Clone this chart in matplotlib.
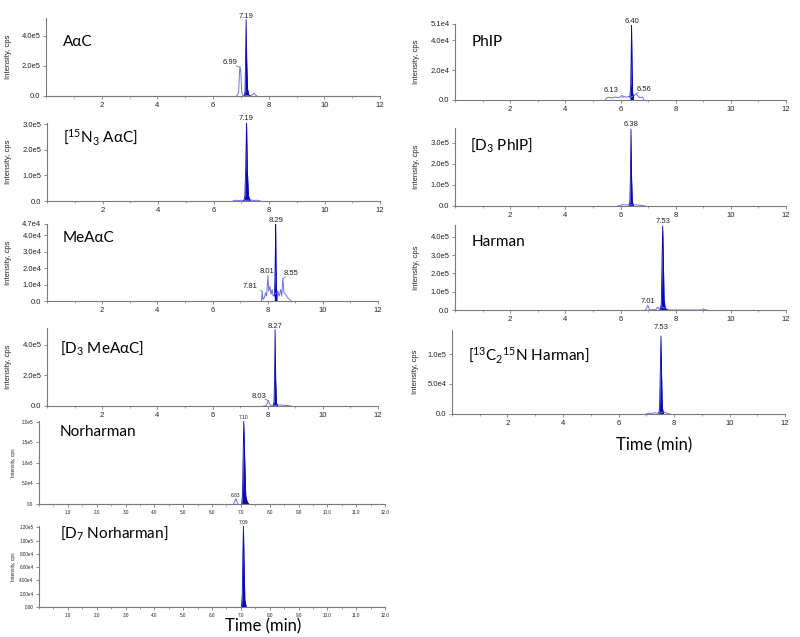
import matplotlib
matplotlib.use("Agg")
import matplotlib.pyplot as plt
from matplotlib.ticker import MultipleLocator

plt.rcParams["mathtext.fontset"] = "custom"
plt.rcParams["mathtext.rm"] = "Lato"

W, H = 800, 637
DARK = "#0a0ab4"
LIGHT = "#6f6fe8"
AX_GRAY = "#7a7a7a"

# ---- chromatogram vertices (time in min, intensity in cps) ----
aac_t = [6.85, 6.92, 6.95, 6.97, 7.00, 7.03, 7.06, 7.12, 7.35, 7.42, 7.47, 7.52, 7.58]
aac_i = [0, 2e4, 1.5e5, 1.95e5, 1.6e5, 3e4, 4e3, 2e3, 3e3, 8e3, 1.8e4, 8e3, 0]
aac_pk_t = [7.12, 7.15, 7.17, 7.19, 7.21, 7.24, 7.28, 7.33]
aac_pk_i = [0, 3e4, 2.5e5, 5.1e5, 2.4e5, 5e4, 1e4, 0]

n15_t = [6.7, 6.8, 6.9, 7.0, 7.08, 7.35, 7.45, 7.55, 7.7]
n15_i = [0, 3e3, 2e3, 3e3, 2e3, 4e3, 2e3, 3e3, 0]
n15_pk_t = [7.09, 7.13, 7.16, 7.19, 7.22, 7.26, 7.33]
n15_pk_i = [0, 2e4, 1.3e5, 3.1e5, 1.2e5, 2e4, 0]

me_t = [7.78, 7.80, 7.83, 7.88, 7.92, 7.96, 8.01, 8.04, 8.08, 8.12, 8.16, 8.20, 8.25,
        8.33, 8.37, 8.42, 8.47, 8.51, 8.55, 8.59, 8.65, 8.72, 8.80, 8.85]
me_i = [0, 6e3, 1e3, 2e3, 5e3, 3e3, 1.55e4, 6e3, 9e3, 4e3, 7e3, 3e3, 4e3,
        5e3, 6e3, 3e3, 7e3, 3e3, 1.4e4, 5e3, 4e3, 2e3, 1e3, 0]
me_pk_t = [8.24, 8.26, 8.28, 8.29, 8.30, 8.32, 8.34]
me_pk_i = [3e3, 1.2e4, 3.3e4, 4.7e4, 2.5e4, 8e3, 3e3]

d3me_t = [7.85, 7.95, 8.00, 8.03, 8.06, 8.12, 8.18, 8.35, 8.45, 8.6, 8.75, 8.85]
d3me_i = [0, 2e3, 2.5e4, 3.5e4, 1.5e4, 2e3, 1e3, 8e3, 6e3, 5e3, 2e3, 0]
d3me_pk_t = [8.20, 8.23, 8.25, 8.27, 8.29, 8.32, 8.36]
d3me_pk_i = [0, 3e4, 1.8e5, 5.0e5, 1.7e5, 2e4, 0]

nor_t = [6.75, 6.80, 6.83, 6.86, 6.90]
nor_i = [0, 8e3, 1.3e4, 7e3, 0]
nor_pk_t = [7.03, 7.06, 7.08, 7.10, 7.13, 7.17, 7.22, 7.28]
nor_pk_i = [0, 3e4, 1.2e5, 2.02e5, 1.2e5, 2e4, 5e3, 0]

d7_t = [6.95, 7.0]
d7_i = [0, 0]
d7_pk_t = [7.02, 7.05, 7.07, 7.09, 7.11, 7.14, 7.19]
d7_pk_i = [0, 2e4, 8e4, 1.22e5, 7e4, 1e4, 0]

phip_t = [5.45, 5.5, 5.6, 5.7, 5.8, 5.9, 6.0, 6.1, 6.13, 6.2, 6.3, 6.35,
          6.45, 6.5, 6.56, 6.62, 6.7, 6.8, 6.85]
phip_i = [0, 1.5e3, 1.8e3, 1.3e3, 2e3, 1.6e3, 2.2e3, 1.8e3, 2.5e3, 1.8e3, 2.4e3, 2e3,
          2.5e3, 3e3, 4e3, 3e3, 1.5e3, 2e3, 0]
phip_pk_t = [6.34, 6.37, 6.39, 6.40, 6.42, 6.44, 6.47]
phip_pk_i = [2e3, 1e4, 3.5e4, 5.0e4, 2.2e4, 5e3, 2e3]

d3p_t = [5.9, 6.0, 6.1, 6.2, 6.3, 6.5, 6.6, 6.75, 6.9]
d3p_i = [0, 4e3, 6e3, 5e3, 6e3, 6e3, 5e3, 3e3, 0]
d3p_pk_t = [6.31, 6.34, 6.36, 6.38, 6.40, 6.43, 6.47]
d3p_pk_i = [0, 2e4, 1.5e5, 3.65e5, 1.4e5, 2e4, 0]

har_t = [6.9, 6.95, 6.98, 7.01, 7.04, 7.1, 7.2, 7.3, 7.35, 7.38, 7.42, 7.45,
         7.62, 7.7, 7.8, 8.95, 9.0, 9.05, 9.15]
har_i = [0, 1e4, 2.5e4, 2e4, 4e3, 1e3, 2e3, 4e3, 1.5e4, 8e3, 3e3, 1.8e4,
         1e4, 2e3, 0, 0, 6e3, 2e3, 0]
har_pk_t = [7.45, 7.48, 7.51, 7.53, 7.55, 7.58, 7.62, 7.7]
har_pk_i = [0, 4e4, 3.2e5, 4.6e5, 3.0e5, 6e4, 1e4, 0]

c13_t = [7.0, 7.1, 7.2, 7.3, 7.4, 7.45, 7.65, 7.75, 7.85]
c13_i = [0, 1.5e3, 1e3, 2e3, 1.5e3, 2e3, 3e3, 1.5e3, 0]
c13_pk_t = [7.45, 7.48, 7.51, 7.53, 7.55, 7.58, 7.63]
c13_pk_i = [0, 1e4, 8e4, 1.3e5, 7e4, 1e4, 0]

fig = plt.figure(figsize=(W / 100, H / 100), dpi=100)


def px_axes(left, top, right, bottom):
    return fig.add_axes([left / W, 1 - bottom / H, (right - left) / W, (bottom - top) / H])


def panel(box, t, i, pk_t, pk_i, ymax, yticks, ylabels, small=False):
    ax = px_axes(*box)
    ax.plot(t, i, color=LIGHT, lw=0.7)
    ax.fill_between(pk_t, pk_i, color=DARK, lw=0)
    ax.plot(pk_t, pk_i, color=DARK, lw=0.6)
    ax.set_xlim(0, 12)
    ax.set_ylim(0, ymax)
    for s in ["top", "right"]:
        ax.spines[s].set_visible(False)
    for s in ["left", "bottom"]:
        ax.spines[s].set_color(AX_GRAY)
        ax.spines[s].set_linewidth(0.8)
    ax.set_yticks(yticks)
    ax.set_yticklabels(ylabels)
    if small:
        xt = list(range(1, 13))
        ax.set_xticks(xt)
        ax.set_xticklabels([f"{v}.0" for v in xt])
        ax.xaxis.set_minor_locator(MultipleLocator(0.5))
        fs = 3.3
    else:
        xt = [2, 4, 6, 8, 10, 12]
        ax.set_xticks(xt)
        ax.set_xticklabels([str(v) for v in xt])
        ax.xaxis.set_minor_locator(MultipleLocator(1))
        fs = 5.5
    ax.tick_params(axis="both", which="major", length=2.5, width=0.6, color=AX_GRAY,
                   labelsize=fs, labelcolor="#222222", pad=1.5)
    ax.tick_params(axis="x", which="minor", length=1.5, width=0.5, color=AX_GRAY)
    for lab in ax.get_xticklabels() + ax.get_yticklabels():
        lab.set_family("Liberation Sans")
    return ax


def peak_label(ax, x, y, txt, fs=5.5):
    ax.text(x, y, txt, ha="center", va="bottom", fontsize=fs, color="#222222",
            family="Liberation Sans", clip_on=False)


def lead_label(ax, tx, ty, px, py, txt, fs=5.5):
    ax.annotate(txt, xy=(px, py), xytext=(tx, ty), ha="center", va="center",
                fontsize=fs, color="#222222", family="Liberation Sans",
                arrowprops=dict(arrowstyle="-", color="#666666", lw=0.5,
                                shrinkA=5, shrinkB=0))


def name(x, y, txt):
    fig.text(x / W, 1 - y / H, txt, fontsize=11, family=["Lato", "DejaVu Sans"],
             va="center", ha="left", color="black")


def ylab(x, top, bottom, fs=5.5):
    fig.text(x / W, 1 - (top + bottom) / 2 / H, "Intensity, cps", rotation=90,
             fontsize=fs, family="Liberation Sans", ha="center", va="center", color="#222222")


# ---- left column ----
ax = panel((46, 18, 380, 96), aac_t, aac_i, aac_pk_t, aac_pk_i, 5.2e5,
           [0, 2e5, 4e5], ["0.0", "2.0e5", "4.0e5"])
peak_label(ax, 7.19, 5.1e5, "7.19")
lead_label(ax, 6.6, 2.2e5, 6.95, 1.92e5, "6.99")
name(63, 42, "AαC")
ylab(9, 18, 96)

ax = panel((47, 123, 380, 201), n15_t, n15_i, n15_pk_t, n15_pk_i, 3.05e5,
           [0, 1e5, 2e5, 3e5], ["0.0", "1.0e5", "2.0e5", "3.0e5"])
peak_label(ax, 7.19, 3.1e5, "7.19")
name(63, 137, r"[$\mathregular{^{15}N_3}$ AαC]")
ylab(9, 123, 201)

ax = panel((47, 224, 378, 301), me_t, me_i, me_pk_t, me_pk_i, 4.7e4,
           [0, 1e4, 2e4, 3e4, 4e4, 4.7e4], ["0.0", "1.0e4", "2.0e4", "3.0e4", "4.0e4", "4.7e4"])
peak_label(ax, 8.29, 4.7e4, "8.29")
peak_label(ax, 7.98, 1.6e4, "8.01")
lead_label(ax, 8.85, 1.7e4, 8.57, 1.4e4, "8.55")
lead_label(ax, 7.36, 0.9e4, 7.79, 6e3, "7.81")
name(63, 238, "MeAαC")
ylab(9, 224, 301)

ax = panel((47, 328, 378, 406), d3me_t, d3me_i, d3me_pk_t, d3me_pk_i, 5.1e5,
           [0, 2e5, 4e5], ["0.0", "2.0e5", "4.0e5"])
peak_label(ax, 8.27, 5.0e5, "8.27")
lead_label(ax, 7.67, 6.5e4, 8.02, 3.5e4, "8.03")
name(60, 348, r"[$\mathregular{D_3}$ MeAαC]")
ylab(9, 328, 406)

ax = panel((39, 421, 385, 504), nor_t, nor_i, nor_pk_t, nor_pk_i, 2.02e5,
           [0, 5e4, 1e5, 1.5e5, 2e5], ["0.0", "5.0e4", "1.0e5", "1.5e5", "2.0e5"], small=True)
peak_label(ax, 7.10, 2.04e5, "7.10", fs=3.5)
peak_label(ax, 6.83, 1.5e4, "6.83", fs=3.5)
name(60, 432, "Norharman")
ylab(14, 421, 504, fs=3.5)

ax = panel((39, 526, 385, 607), d7_t, d7_i, d7_pk_t, d7_pk_i, 1.22e5,
           [0, 2e4, 4e4, 6e4, 8e4, 1e5, 1.2e5],
           ["0.00", "2.00e4", "4.00e4", "6.00e4", "8.00e4", "1.00e5", "1.20e5"], small=True)
peak_label(ax, 7.09, 1.24e5, "7.09", fs=3.5)
name(60, 533, r"[$\mathregular{D_7}$ Norharman]")
ylab(14, 526, 607, fs=3.5)
fig.text(263 / W, 1 - 626 / H, "Time (min)", fontsize=12, family="Lato",
         ha="center", va="center")

# ---- right column ----
ax = panel((455, 24, 786, 100), phip_t, phip_i, phip_pk_t, phip_pk_i, 5.1e4,
           [0, 2e4, 4e4, 5.1e4], ["0.0", "2.0e4", "4.0e4", "5.1e4"])
peak_label(ax, 6.40, 5.05e4, "6.40")
lead_label(ax, 5.66, 6.1e3, 6.10, 2.6e3, "6.13")
lead_label(ax, 6.87, 7e3, 6.56, 4.2e3, "6.56")
name(472, 42, "PhIP")
ylab(417, 24, 100)

ax = panel((455, 128, 786, 206), d3p_t, d3p_i, d3p_pk_t, d3p_pk_i, 3.7e5,
           [0, 1e5, 2e5, 3e5], ["0.0", "1.0e5", "2.0e5", "3.0e5"])
peak_label(ax, 6.38, 3.7e5, "6.38")
name(470, 145, r"[$\mathregular{D_3}$ PhIP]")
ylab(417, 128, 206)

ax = panel((455, 225, 786, 310), har_t, har_i, har_pk_t, har_pk_i, 4.65e5,
           [0, 1e5, 2e5, 3e5, 4e5], ["0.0", "1.0e5", "2.0e5", "3.0e5", "4.0e5"])
peak_label(ax, 7.53, 4.65e5, "7.53")
peak_label(ax, 7.01, 3e4, "7.01")
name(472, 242, "Harman")
ylab(417, 225, 310)

ax = panel((452, 330, 785, 414), c13_t, c13_i, c13_pk_t, c13_pk_i, 1.4e5,
           [0, 5e4, 1e5], ["0.0", "5.0e4", "1.0e5"])
peak_label(ax, 7.53, 1.38e5, "7.53")
name(468, 355, r"[$\mathregular{^{13}C_2{}^{15}N}$ Harman]")
ylab(415, 330, 414)
fig.text(654 / W, 1 - 445 / H, "Time (min)", fontsize=12, family="Lato",
         ha="center", va="center")

fig.savefig("out.png", dpi=100)
